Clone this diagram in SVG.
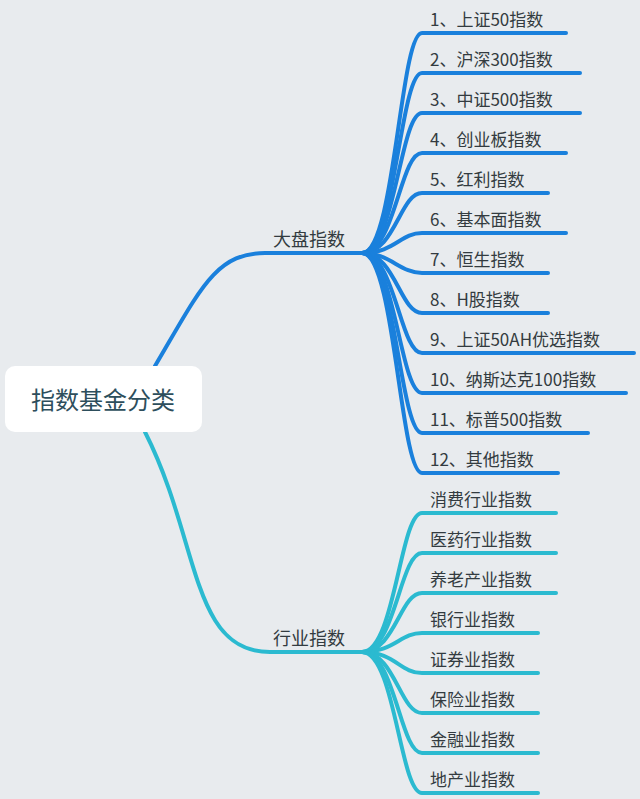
<svg xmlns="http://www.w3.org/2000/svg" width="640" height="799" viewBox="0 0 640 799">
<style>
text{font-family:"Noto Sans CJK SC","Liberation Sans",sans-serif;}
.lf{font-size:17px;fill:#333b40}
.br{font-size:18px;fill:#333b40}
.b{fill:none;stroke:#1a80dc;stroke-width:4;stroke-linecap:round}
.c{fill:none;stroke:#2bbad0;stroke-width:4;stroke-linecap:round}
</style>
<rect width="640" height="799" fill="#e8ebee"/>
<g id="connectors">
<path class="b" d="M155 366 C200 290 215 253 265 253 L362 253" stroke-width="5"/>
<path class="c" d="M145 432 C200 540 190 652 270 652 L362 652" stroke-width="5"/>
<g id="big">
<path class="b" d="M362 253 C395 253 400 33 422 33 L566 33"/>
<path class="b" d="M362 253 C395 253 400 73 422 73 L580 73"/>
<path class="b" d="M362 253 C395 253 400 113 422 113 L580 113"/>
<path class="b" d="M362 253 C395 253 400 153 422 153 L566 153"/>
<path class="b" d="M362 253 C395 253 400 193 422 193 L548 193"/>
<path class="b" d="M362 253 C395 253 400 233 422 233 L566 233"/>
<path class="b" d="M362 253 C390 253 400 273 422 273 L548 273"/>
<path class="b" d="M362 253 C395 253 400 313 422 313 L548 313"/>
<path class="b" d="M362 253 C395 253 400 353 422 353 L634 353"/>
<path class="b" d="M362 253 C395 253 400 393 422 393 L626 393"/>
<path class="b" d="M362 253 C395 253 400 433 422 433 L588 433"/>
<path class="b" d="M362 253 C395 253 400 473 422 473 L558 473"/>
</g>
<g id="ind">
<path class="c" d="M362 652 C395 652 400 513 422 513 L556 513"/>
<path class="c" d="M362 652 C395 652 400 553 422 553 L556 553"/>
<path class="c" d="M362 652 C395 652 400 593 422 593 L556 593"/>
<path class="c" d="M362 652 C395 652 400 633 422 633 L538 633"/>
<path class="c" d="M362 652 C395 652 400 673 422 673 L538 673"/>
<path class="c" d="M362 652 C395 652 400 713 422 713 L538 713"/>
<path class="c" d="M362 652 C395 652 400 753 422 753 L538 753"/>
<path class="c" d="M362 652 C395 652 400 793 422 793 L538 793"/>
</g>
</g>
<g id="root"><rect x="5" y="366" width="197" height="66" rx="10" fill="#fff"/>
<text x="103" y="409" text-anchor="middle" font-size="24" fill="#2d4e5c">指数基金分类</text></g>
<g id="n-big"><text class="br" x="273" y="246">大盘指数</text></g>
<g id="n-ind"><text class="br" x="273" y="645">行业指数</text></g>
<g id="leaves" class="lf">
<text class="lf" x="430" y="26">1、上证50指数</text>
<text class="lf" x="430" y="66">2、沪深300指数</text>
<text class="lf" x="430" y="106">3、中证500指数</text>
<text class="lf" x="430" y="146">4、创业板指数</text>
<text class="lf" x="430" y="186">5、红利指数</text>
<text class="lf" x="430" y="226">6、基本面指数</text>
<text class="lf" x="430" y="266">7、恒生指数</text>
<text class="lf" x="430" y="306">8、H股指数</text>
<text class="lf" x="430" y="346">9、上证50AH优选指数</text>
<text class="lf" x="430" y="386">10、纳斯达克100指数</text>
<text class="lf" x="430" y="426">11、标普500指数</text>
<text class="lf" x="430" y="466">12、其他指数</text>
<text class="lf" x="430" y="506">消费行业指数</text>
<text class="lf" x="430" y="546">医药行业指数</text>
<text class="lf" x="430" y="586">养老产业指数</text>
<text class="lf" x="430" y="626">银行业指数</text>
<text class="lf" x="430" y="666">证券业指数</text>
<text class="lf" x="430" y="706">保险业指数</text>
<text class="lf" x="430" y="746">金融业指数</text>
<text class="lf" x="430" y="786">地产业指数</text>
</g>
</svg>
